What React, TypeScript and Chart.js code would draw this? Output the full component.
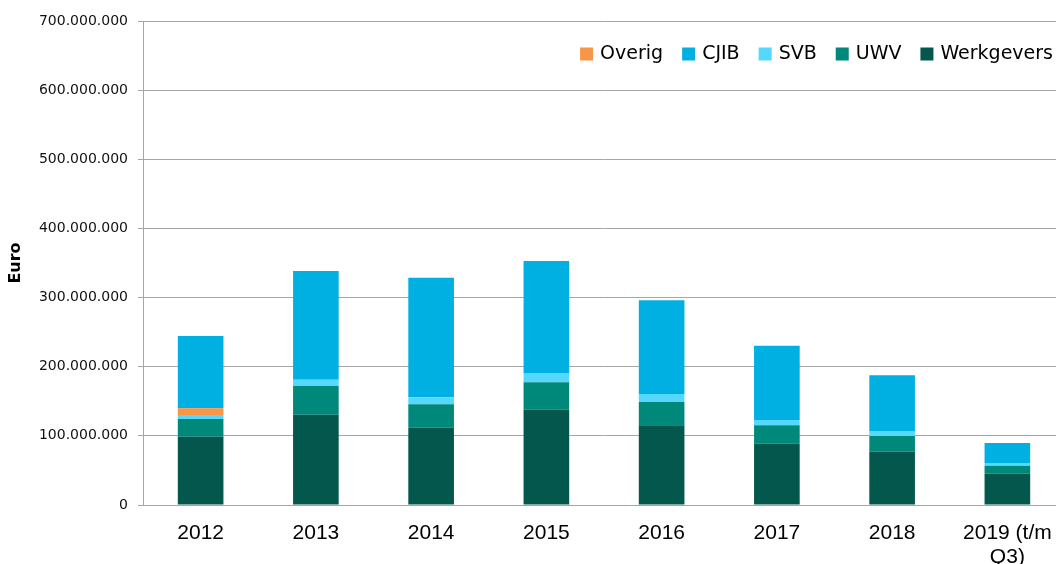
import React, { useEffect, useRef } from 'react';
import { Chart, registerables } from 'chart.js';

Chart.register(...registerables);

const categories: (string | string[])[] = ['2012', '2013', '2014', '2015', '2016', '2017', '2018', ['2019 (t/m', 'Q3)']];

const werkgevers = [98.8e6, 130.7e6, 111.9e6, 137.9e6, 115.3e6, 88.8e6, 77.2e6, 45.3e6];
const uwv = [25.6e6, 41.5e6, 33.8e6, 39.7e6, 33.7e6, 26.5e6, 22.7e6, 11.6e6];
const svb = [5.8e6, 8.8e6, 10.2e6, 13.4e6, 11.6e6, 7.7e6, 7.1e6, 3.9e6];
const overig = [9.7e6, 0, 0, 0, 0, 0, 0, 0];
const cjib = [104.5e6, 157.6e6, 172.6e6, 162e6, 135.6e6, 107.5e6, 80.7e6, 28.9e6];

const legendOrder = ['Overig', 'CJIB', 'SVB', 'UWV', 'Werkgevers'];

const yMin = 0;
const yMax = 700e6;
const yStep = 100e6;

const FONT = '"DejaVu Sans", sans-serif';
const XFONT = '"Liberation Sans", Arial, sans-serif';

const formatEuro = (v: number) => String(Math.round(v)).replace(/\B(?=(\d{3})+(?!\d))/g, '.');

const insideLegend = {
  id: 'insideLegend',
  afterDraw(chart: any) {
    const ctx = chart.ctx;
    ctx.save();
    ctx.font = `19px ${FONT}`;
    ctx.textBaseline = 'middle';
    ctx.textAlign = 'left';
    const box = 13;
    const textGap = 7;
    const itemGap = 19;
    const y = 54;
    let x = chart.chartArea.right - 12;
    for (let i = legendOrder.length - 1; i >= 0; i--) {
      const ds = chart.data.datasets.find((d: any) => d.label === legendOrder[i]);
      if (!ds) continue;
      const w = ctx.measureText(ds.label).width;
      x -= w;
      ctx.fillStyle = '#000000';
      ctx.fillText(ds.label, x, y);
      x -= textGap + box;
      ctx.fillStyle = ds.backgroundColor;
      ctx.fillRect(x, y - box / 2, box, box);
      x -= itemGap;
    }
    ctx.restore();
  },
};

export default function App() {
  const ref = useRef<HTMLCanvasElement | null>(null);

  useEffect(() => {
    if (!ref.current) return;
    const chart = new Chart(ref.current, {
      type: 'bar',
      data: {
        labels: categories,
        datasets: [
          { label: 'Werkgevers', data: werkgevers, backgroundColor: '#03574D' },
          { label: 'UWV', data: uwv, backgroundColor: '#00897B' },
          { label: 'SVB', data: svb, backgroundColor: '#55D8FE' },
          { label: 'Overig', data: overig, backgroundColor: '#F79646' },
          { label: 'CJIB', data: cjib, backgroundColor: '#00B0E2' },
        ],
      },
      options: {
        responsive: false,
        animation: false,
        layout: { padding: { left: 0, top: 21, right: 15, bottom: 0 } },
        datasets: {
          bar: { barPercentage: 0.396, categoryPercentage: 1, borderWidth: 0 },
        },
        plugins: {
          legend: { display: false },
          tooltip: { enabled: false },
          title: { display: false },
        },
        scales: {
          x: {
            stacked: true,
            grid: { display: false, drawTicks: false },
            border: { display: true, color: '#A6A6A6', width: 1 },
            ticks: {
              color: '#000000',
              font: { family: XFONT, size: 21, lineHeight: 1.15 },
              padding: 16,
              maxRotation: 0,
              autoSkip: false,
            },
            afterFit(scale: any) {
              scale.height = 580 - 505;
            },
          },
          y: {
            stacked: true,
            min: yMin,
            max: yMax,
            grid: { color: '#A6A6A6', lineWidth: 1, tickLength: 5, drawTicks: true },
            border: { display: true, color: '#A6A6A6', width: 1 },
            ticks: {
              stepSize: yStep,
              color: '#111111',
              font: { family: FONT, size: 14 },
              padding: 10,
              callback: (v: any) => formatEuro(Number(v)),
            },
            title: {
              display: true,
              text: 'Euro',
              color: '#000000',
              font: { family: FONT, size: 16, weight: 'bold' },
              padding: { top: 6, bottom: 0 },
            },
            afterFit(scale: any) {
              scale.width = 143;
            },
          },
        },
      },
      plugins: [insideLegend],
    });
    return () => chart.destroy();
  }, []);

  return (
    <div style={{ position: 'fixed', left: 0, top: 0, width: 1080, height: 580, background: '#fff' }}>
      <canvas ref={ref} width={1080} height={580} />
    </div>
  );
}
